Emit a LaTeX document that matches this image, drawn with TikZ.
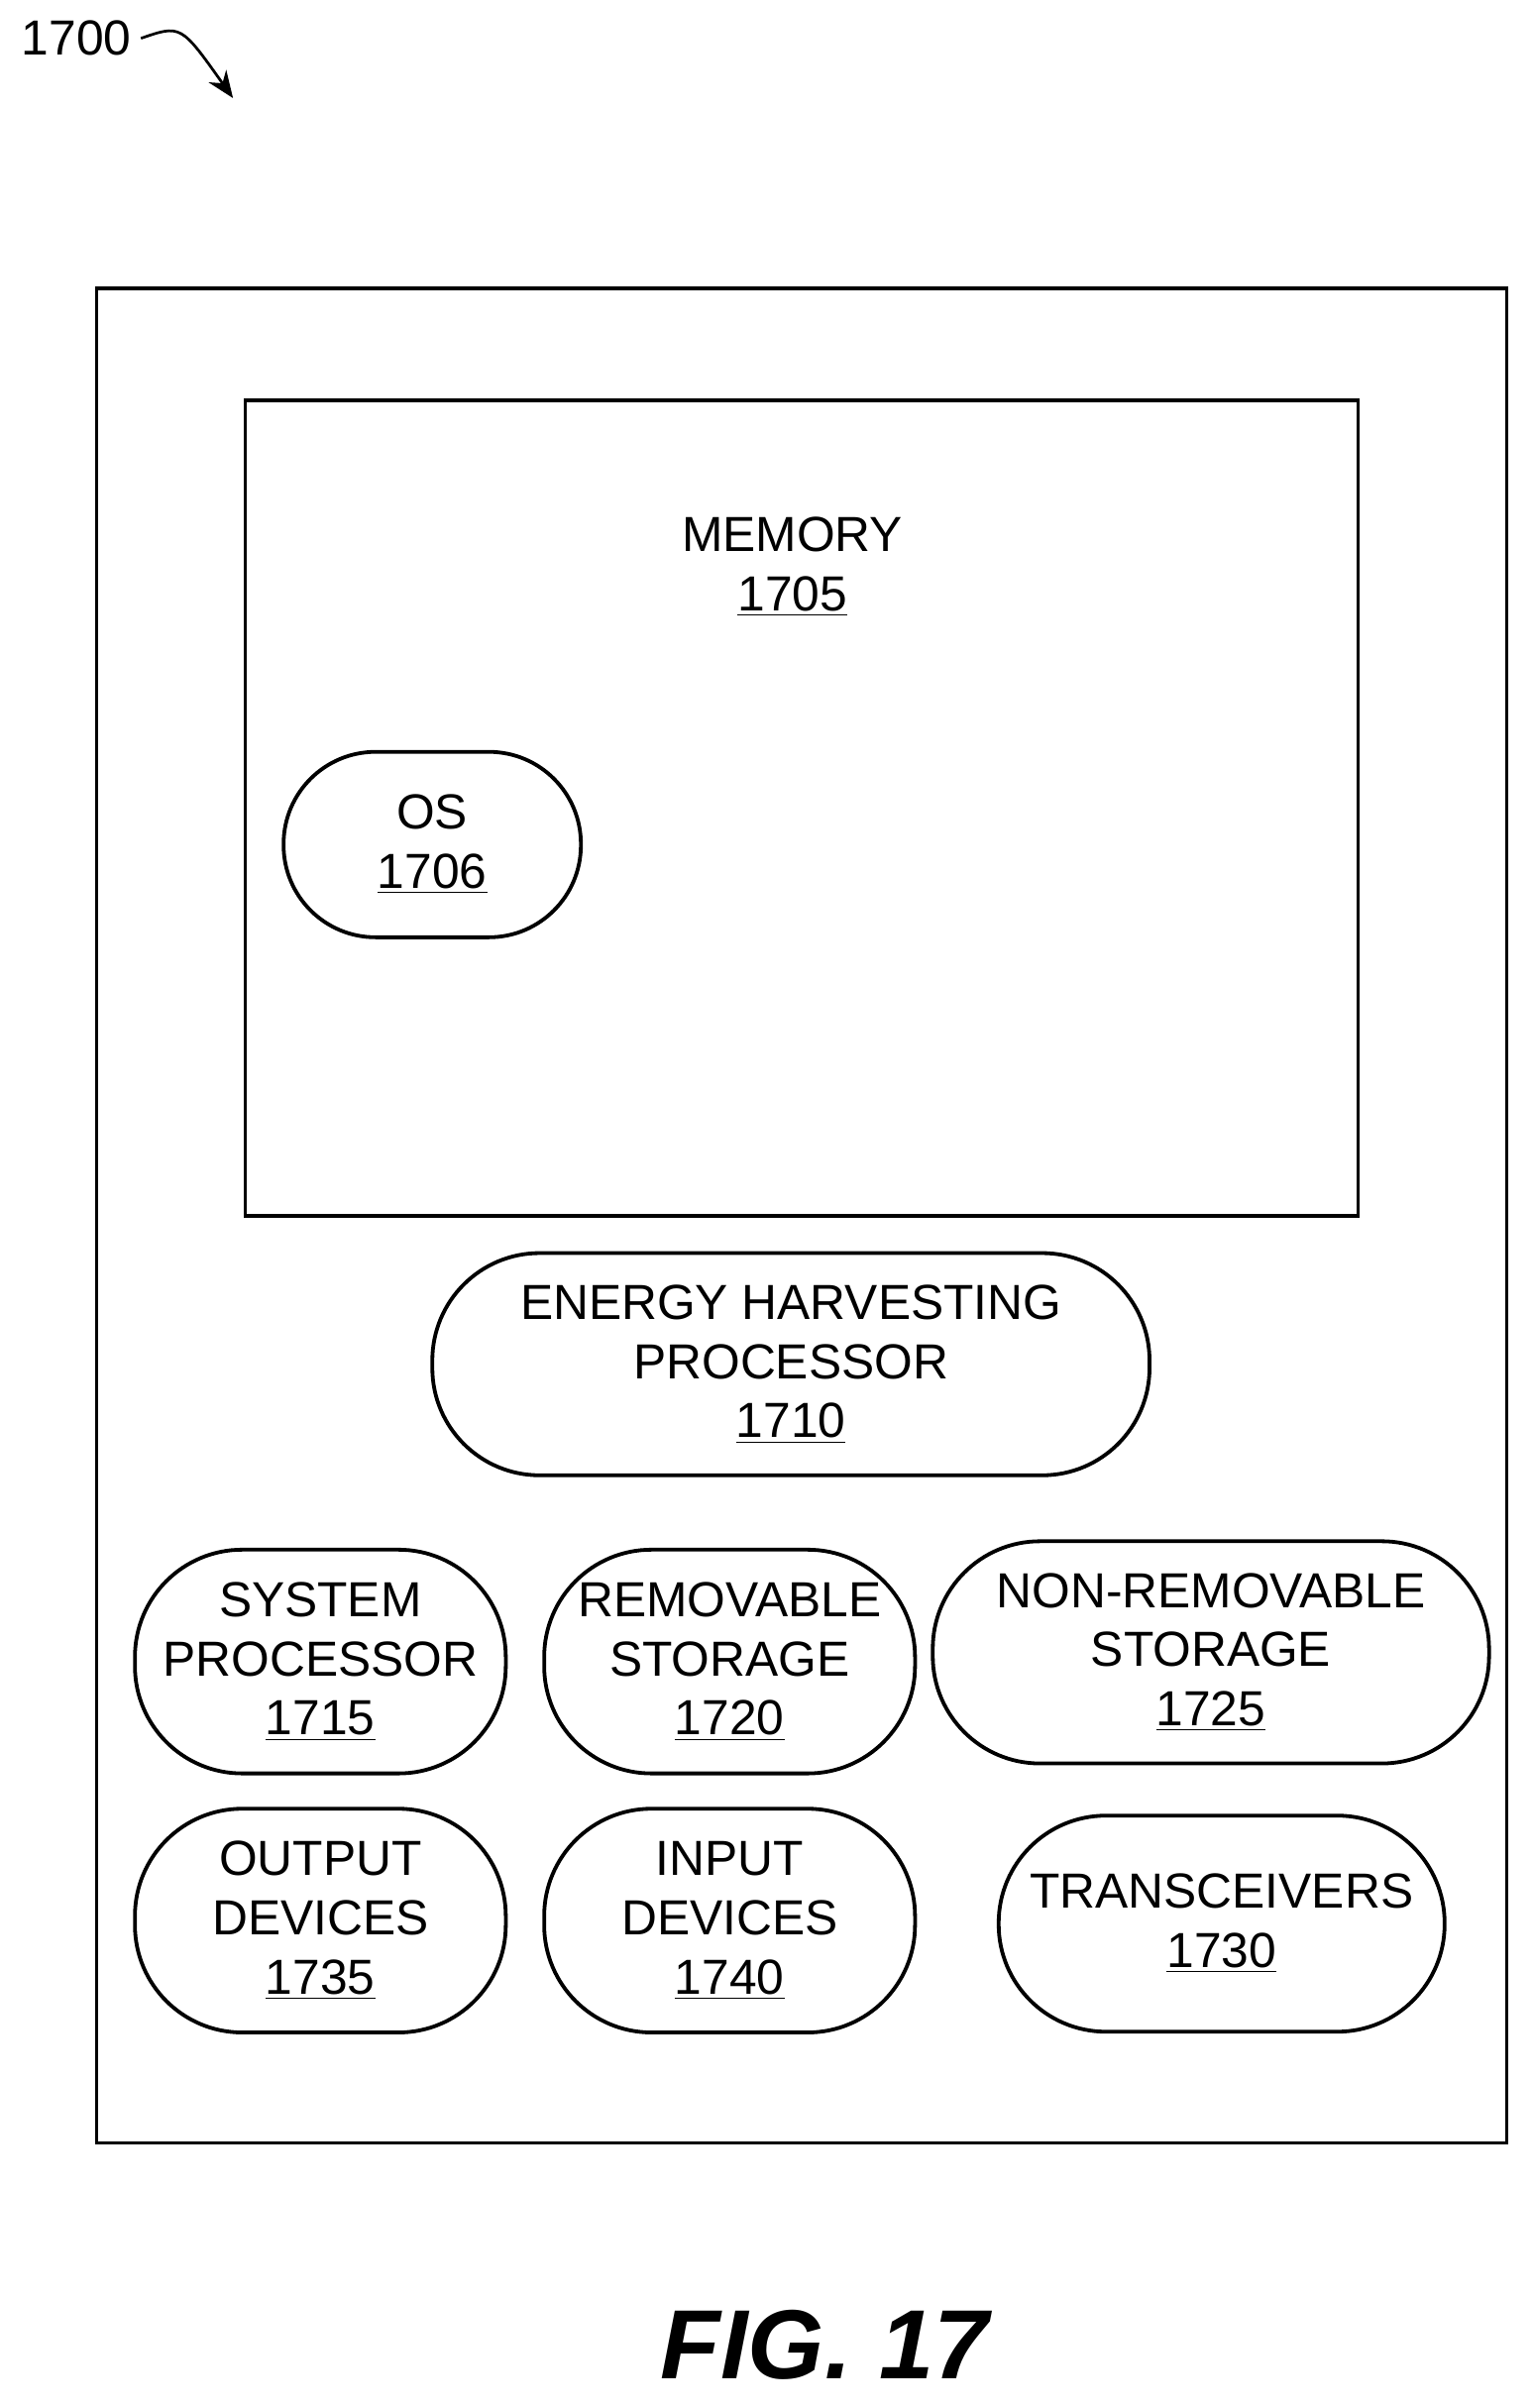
\documentclass[tikz,border=0pt]{standalone}
\usepackage{fontspec}
\setmainfont{Liberation Sans}
\usetikzlibrary{arrows.meta}
\begin{document}
\begin{tikzpicture}[x=0.02cm,y=-0.02cm,
  box/.style={draw,line width=1.4pt},
  pill/.style={draw,line width=1.4pt,align=center,inner sep=0pt,font=\fontsize{18.3}{22}\selectfont},
  lbl/.style={align=center,font=\fontsize{18.3}{22}\selectfont}]
\useasboundingbox (0,0) rectangle (1000,1571);
\node[lbl,anchor=west] (fig) at (8,25) {1700};
\coordinate (tip) at (152,64);
\draw[line width=1pt,-{Stealth[length=10pt,width=8pt]}] (fig.east) .. controls (118,16) .. (tip);
\draw[box] (63,188) rectangle (983,1398);
\draw[box] (160,261) rectangle (886,793);
\node[lbl] (mem) at (517,370) {MEMORY\\\underline{1705}};
\node[pill,minimum width=3.88cm,minimum height=2.42cm,rounded corners=1.2cm] (os) at (282,551) {OS\\\underline{1706}};
\node[pill,minimum width=9.36cm,minimum height=2.9cm,rounded corners=1.4cm] (ehp) at (516,890) {ENERGY HARVESTING\\PROCESSOR\\\underline{1710}};
\node[pill,minimum width=4.84cm,minimum height=2.92cm,rounded corners=1.4cm] (sp) at (209,1084) {SYSTEM\\PROCESSOR\\\underline{1715}};
\node[pill,minimum width=4.84cm,minimum height=2.92cm,rounded corners=1.4cm] (rs) at (476,1084) {REMOVABLE\\STORAGE\\\underline{1720}};
\node[pill,minimum width=7.26cm,minimum height=2.9cm,rounded corners=1.4cm] (nrs) at (790,1078) {NON-REMOVABLE\\STORAGE\\\underline{1725}};
\node[pill,minimum width=4.84cm,minimum height=2.92cm,rounded corners=1.4cm] (od) at (209,1253) {OUTPUT\\DEVICES\\\underline{1735}};
\node[pill,minimum width=4.84cm,minimum height=2.92cm,rounded corners=1.4cm] (id) at (476,1253) {INPUT\\DEVICES\\\underline{1740}};
\node[pill,minimum width=5.82cm,minimum height=2.82cm,rounded corners=1.4cm] (tr) at (797,1255) {TRANSCEIVERS\\\underline{1730}};
\node[font=\fontsize{36.5}{42}\selectfont\bfseries\itshape] (cap) at (538,1530) {FIG. 17};
\end{tikzpicture}
\end{document}
